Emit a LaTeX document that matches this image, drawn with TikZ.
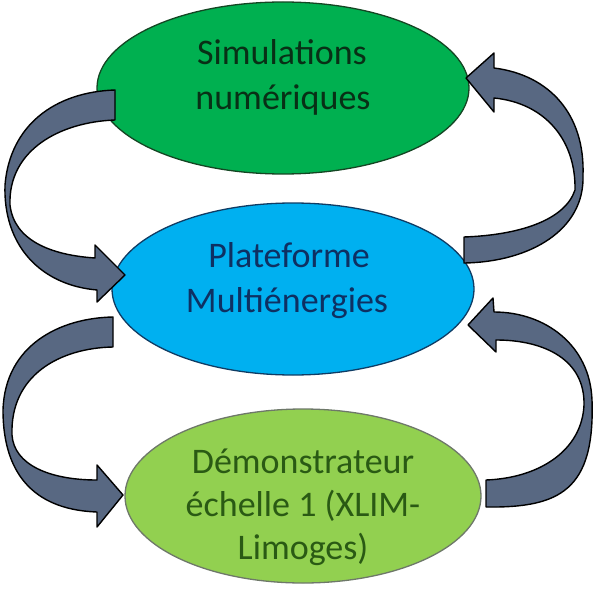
\documentclass[tikz,border=0pt]{standalone}
\usepackage{fontspec}
\setmainfont{Carlito}
\usetikzlibrary{shapes.geometric}
\definecolor{topgreen}{HTML}{00B050}
\definecolor{midblue}{HTML}{00B0F0}
\definecolor{botgreen}{HTML}{92D050}
\definecolor{arrowfill}{RGB}{88,104,130}
\definecolor{toptext}{RGB}{8,48,22}
\definecolor{midtext}{RGB}{14,48,98}
\definecolor{bottext}{RGB}{42,90,20}
\definecolor{topline}{RGB}{20,70,35}
\definecolor{midline}{RGB}{15,60,100}
\definecolor{botline}{RGB}{110,120,105}
\begin{document}
\begin{tikzpicture}[x=1pt,y=-1pt,
  ell/.style={ellipse, inner sep=0pt, outer sep=0pt, line width=1.3pt},
  lbl/.style={anchor=base, inner sep=0pt, font=\fontsize{36}{44}\selectfont},
  curvarrow/.style={fill=arrowfill, draw=black, line width=1.4pt, line join=round}]
\useasboundingbox (0,0) rectangle (596,596);
\fill[white] (0,0) rectangle (596,596);

% ellipses
\node[ell, fill=topgreen, draw=topline, minimum width=372pt, minimum height=172pt] (sim) at (283,88) {};
\node[ell, fill=midblue, draw=midline, minimum width=362pt, minimum height=172pt] (plat) at (293,289) {};
\node[ell, fill=botgreen, draw=botline, minimum width=356pt, minimum height=174pt] (demo) at (303,496) {};

% labels
\node[lbl, text=toptext] (simA) at (282,65) {Simulations};
\node[lbl, text=toptext] (simB) at (283,110) {numériques};
\node[lbl, text=midtext] (platA) at (289,267) {Plateforme};
\node[lbl, text=midtext] (platB) at (287,312) {Multiénergies};
\node[lbl, text=bottext] (demoA) at (303,473) {Démonstrateur};
\node[lbl, text=bottext] (demoB) at (303,516) {échelle 1 (XLIM-};
\node[lbl, text=bottext] (demoC) at (303,559) {Limoges)};

% arrow: simulations -> plateforme (left)
\filldraw[curvarrow]
  (115,90) .. controls (55,92) and (10,125) .. (5,185)
  .. controls (3,245) and (40,285) .. (97,290)
  -- (97,302) -- (125,275) -- (95,245) -- (95,258)
  .. controls (50,255) and (14,240) .. (10,205)
  .. controls (8,150) and (60,122) .. (115,120) -- cycle;

% arrow: plateforme -> simulations (right)
\filldraw[curvarrow]
  (464,237) .. controls (520,235) and (565,220) .. (575,190)
  .. controls (576,140) and (545,103) .. (494,98)
  -- (494,112) -- (466,78) -- (494,53) -- (494,68)
  .. controls (550,75) and (585,115) .. (583,175)
  .. controls (585,230) and (530,262) .. (464,263) -- cycle;

% arrow: plateforme -> demonstrateur (left)
\filldraw[curvarrow]
  (113,317) .. controls (60,318) and (5,345) .. (3,410)
  .. controls (3,480) and (40,510) .. (97,512)
  -- (97,527) -- (123,495) -- (97,465) -- (97,480)
  .. controls (50,480) and (14,465) .. (12,435)
  .. controls (10,375) and (60,348) .. (113,347) -- cycle;

% arrow: demonstrateur -> plateforme (right)
\filldraw[curvarrow]
  (486,480) .. controls (540,478) and (582,450) .. (584,405)
  .. controls (585,360) and (545,340) .. (496,340)
  -- (496,352) -- (468,325) -- (493,298) -- (494,312)
  .. controls (545,312) and (590,345) .. (592,400)
  .. controls (595,490) and (560,508) .. (486,507) -- cycle;
\end{tikzpicture}
\end{document}
